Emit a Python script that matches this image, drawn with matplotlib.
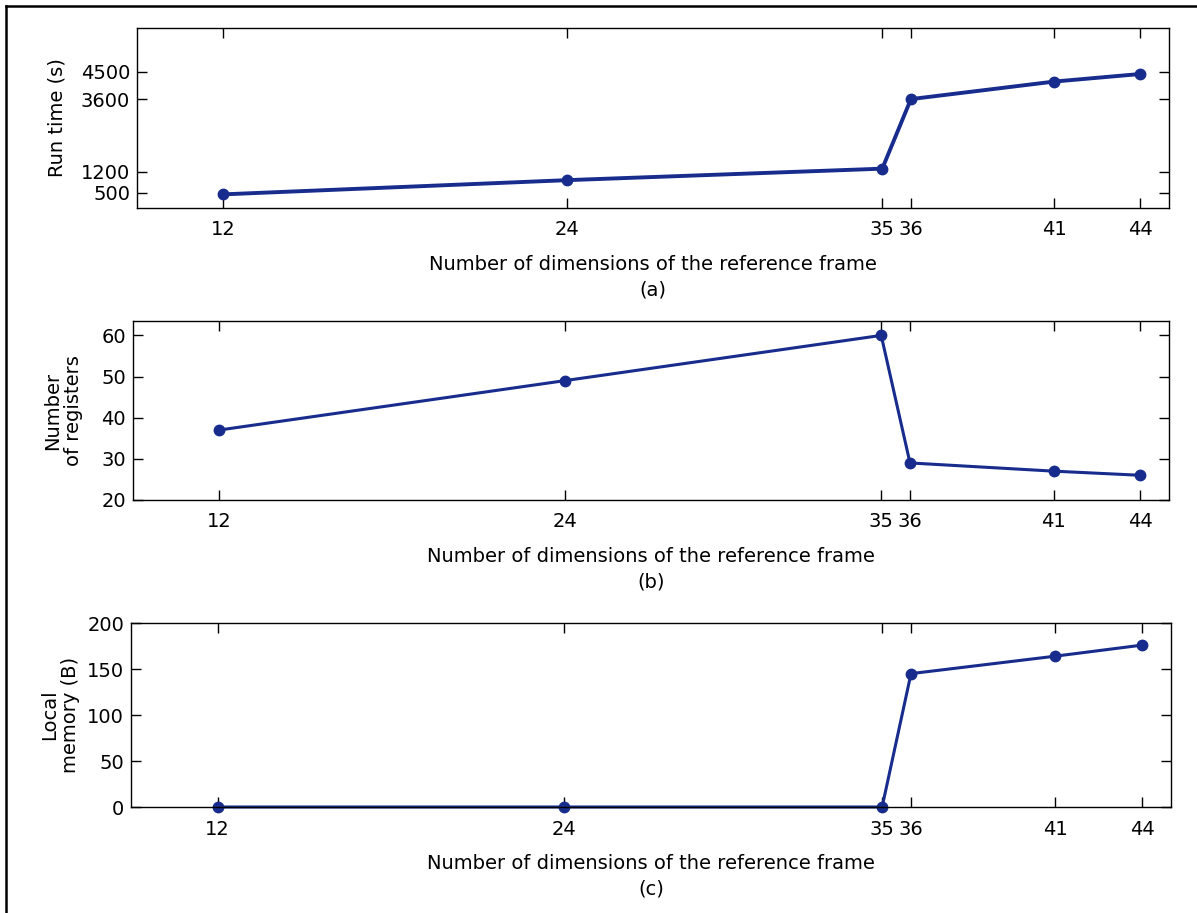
import matplotlib
matplotlib.use('Agg')
import matplotlib.pyplot as plt
from matplotlib.lines import Line2D

# data
dims = [12, 24, 35, 36, 41, 44]
run_time = [450, 920, 1300, 3600, 4180, 4430]
registers = [37, 49, 60, 29, 27, 26]
local_mem = [0, 0, 0, 145, 164, 176]

runtime_ticks = [500, 1200, 3600, 4500]
reg_ticks = [20, 30, 40, 50, 60]
mem_ticks = [0, 50, 100, 150, 200]

xlabel = 'Number of dimensions of the reference frame'
line_color = '#172c8c'

plt.rcParams['font.family'] = ['DejaVu Sans']
plt.rcParams['font.size'] = 14

fig = plt.figure(figsize=(11.97, 9.13), dpi=100)

# frame around the figure
fig.add_artist(Line2D([6 / 1197, 6 / 1197], [0, 1 - 6.5 / 913], color='black', lw=1.8))
fig.add_artist(Line2D([6 / 1197, 1], [1 - 6.5 / 913, 1 - 6.5 / 913], color='black', lw=1.8))

panels = [
    # rect, values, yticks, ylim, ylabel, label x, letter, line width
    ([0.1145, 0.7722, 0.862, 0.1971], run_time, runtime_ticks, (0, 5950), 'Run time (s)', -0.068, '(a)', 2.8),
    ([0.1111, 0.4524, 0.8655, 0.1960], registers, reg_ticks, (20, 63.5), 'Number\nof registers', -0.048, '(b)', 2.2),
    ([0.1094, 0.1161, 0.8689, 0.2015], local_mem, mem_ticks, (0, 200), 'Local\nmemory (B)', -0.049, '(c)', 2.2),
]

for rect, vals, yt, yl, ylab, lx, letter, lw in panels:
    ax = fig.add_axes(rect)
    ax.plot(dims, vals, color=line_color, lw=lw, marker='o', markersize=7.5, clip_on=False)
    ax.set_xlim(9, 45)
    ax.set_ylim(*yl)
    ax.set_xticks(dims)
    ax.set_yticks(yt)
    ax.tick_params(direction='in', length=7, width=1, top=True, right=True, labelsize=14)
    ax.tick_params(axis='x', pad=9)
    ax.tick_params(axis='y', pad=5)
    for s in ax.spines.values():
        s.set_linewidth(1)
    ax.set_xlabel(xlabel + '\n' + letter, fontsize=14, linespacing=1.45, labelpad=11)
    ax.set_ylabel(ylab, fontsize=14, linespacing=1.15)
    ax.yaxis.set_label_coords(lx, 0.5)

fig.savefig('out.png', dpi=100)
